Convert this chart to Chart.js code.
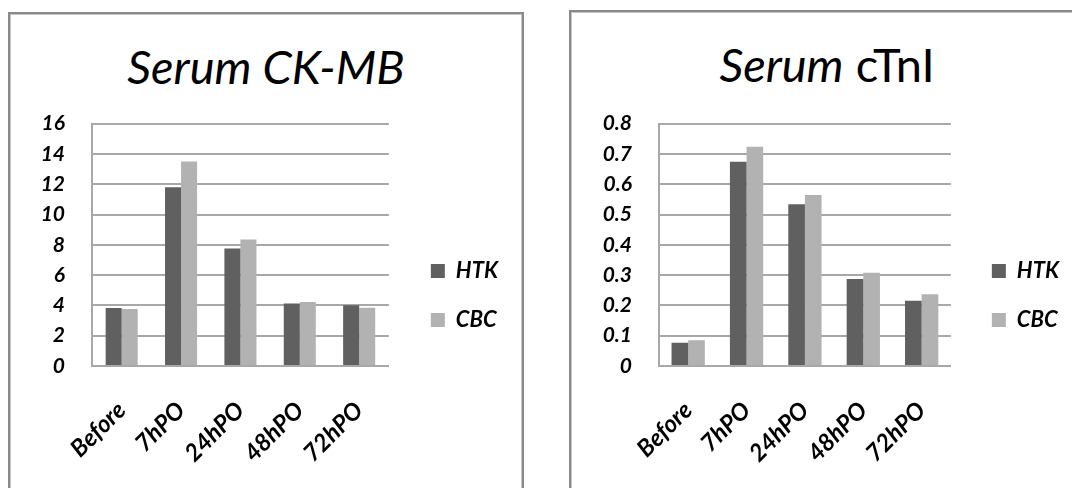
<!DOCTYPE html>
<html><head><meta charset="utf-8">
<script src="https://cdn.jsdelivr.net/npm/chart.js@4/dist/chart.umd.min.js"></script>
<style>
html,body{margin:0;padding:0;background:#fff;overflow:hidden;width:1072px;height:488px;}
.box{position:absolute;box-sizing:border-box;width:516px;height:540px;border:2px solid #8a8a8a;box-shadow:inset 0 0 0 1px #c4c4c4;}
.title{position:absolute;width:516px;text-align:center;font-family:Lato,sans-serif;font-size:47px;line-height:1.2;color:#000;white-space:nowrap;}
canvas{position:absolute;}
</style></head><body>
<div class="box" style="left:8px;top:12px"></div>
<div class="box" style="left:569px;top:10px"></div>
<div class="title" style="left:8px;top:38px"><i>Serum CK-MB</i></div>
<div class="title" style="left:569px;top:36px"><i>Serum</i> cTnI</div>
<canvas id="c1" width="510" height="423" style="left:11px;top:84px"></canvas>
<canvas id="c2" width="510" height="423" style="left:572px;top:84px"></canvas>
<script>
const categories = ['Before', '7hPO', '24hPO', '48hPO', '72hPO'];
const seriesNames = ['HTK', 'CBC'];
const ckmbHTK = [3.83, 11.8, 7.76, 4.12, 4.01];
const ckmbCBC = [3.77, 13.5, 8.35, 4.23, 3.85];
const ctniHTK = [0.077, 0.674, 0.534, 0.287, 0.215];
const ctniCBC = [0.085, 0.724, 0.564, 0.308, 0.237];
const ckmbTicks = ['0', '2', '4', '6', '8', '10', '12', '14', '16'];
const ctniTicks = ['0', '0.1', '0.2', '0.3', '0.4', '0.5', '0.6', '0.7', '0.8'];

const darkGrey = '#606060';
const lightGrey = '#b2b2b2';
const gridGrey = '#a8a8a8';
const yFont = {family: 'Lato', size: 21, weight: 'bold', style: 'italic'};
const xFont = {family: 'Lato', size: 24, weight: 'bold', style: 'italic'};
const legendFont = {family: 'Lato', size: 22, weight: 'bold', style: 'italic'};

function makeChart(id, a, b, tickLabels, maxV, step, catPct, yWidth, gapWidth, pad) {
  return new Chart(document.getElementById(id), {
    type: 'bar',
    data: {
      labels: categories,
      datasets: [
        {label: seriesNames[0], data: a, backgroundColor: darkGrey, borderWidth: 0},
        {label: seriesNames[1], data: b, backgroundColor: lightGrey, borderWidth: 0}
      ]
    },
    options: {
      responsive: false,
      devicePixelRatio: 1,
      animation: false,
      layout: {padding: pad},
      datasets: {bar: {categoryPercentage: catPct, barPercentage: 1.0}},
      plugins: {
        tooltip: {enabled: false},
        title: {display: false},
        legend: {
          position: 'right',
          align: 'center',
          maxWidth: 160,
          labels: {boxWidth: 14, boxHeight: 14, padding: 27, color: '#000', font: legendFont}
        }
      },
      scales: {
        x: {
          ticks: {minRotation: 45, maxRotation: 45, padding: 30, color: '#000', font: xFont},
          grid: {display: false, drawTicks: false},
          border: {display: true, color: gridGrey, width: 2},
          afterFit(s) { s.height = 141; }
        },
        y: {
          min: 0, max: maxV,
          ticks: {stepSize: step, padding: 27, color: '#000', font: yFont,
                  callback: (v, i) => tickLabels[i]},
          grid: {color: gridGrey, lineWidth: 2, drawTicks: false},
          border: {display: true, color: gridGrey, width: 2},
          afterFit(s) { s.width = yWidth; }
        },
        gap: {
          type: 'linear', position: 'right', display: true,
          grid: {display: false, drawTicks: false},
          ticks: {display: false},
          border: {display: false},
          afterFit(s) { s.width = gapWidth; }
        }
      }
    }
  });
}

makeChart('c1', ckmbHTK, ckmbCBC, ckmbTicks, 16, 2, 0.54, 81, 15, {left: 0, right: 13, top: 0, bottom: 0});
makeChart('c2', ctniHTK, ctniCBC, ctniTicks, 0.8, 0.1, 0.57, 87, 14, {left: 0, right: 13, top: 0, bottom: 0});
</script>
</body></html>
